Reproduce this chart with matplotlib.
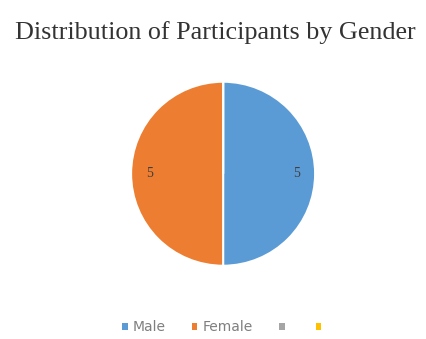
import matplotlib
matplotlib.use("Agg")
import matplotlib.pyplot as plt
from matplotlib.patches import Patch

categories = ["Male", "Female", "", ""]
values = [5, 5, 0, 0]
colors = ["#5B9BD5", "#ED7D31", "#A5A5A5", "#FFC000"]
title = "Distribution of Participants by Gender"

fig = plt.figure(figsize=(4.27, 3.39), dpi=100)
fig.text(0.035, 0.905, title, fontsize=18.8, family="Liberation Serif",
         color="#333333", ha="left", va="center")

ax = fig.add_axes([0.307, 0.216, 0.431, 0.543])
total = sum(values)
wedges, texts, autotexts = ax.pie(
    values, colors=colors, startangle=90, counterclock=False,
    wedgeprops=dict(edgecolor="white", linewidth=1.5),
    autopct=lambda p: f"{p * total / 100:.0f}" if p > 0 else "",
    pctdistance=0.8, textprops=dict(fontsize=10, color="#404040",
                                    family="Liberation Serif"))
ax.set_xlim(-1, 1)
ax.set_ylim(-1, 1)
ax.set_aspect("equal")

handles = [Patch(facecolor=c, edgecolor="none") for c in colors]
fig.legend(handles, categories, loc="center", bbox_to_anchor=(0.525, 0.035),
           ncol=4, frameon=False, fontsize=10, handlelength=0.4,
           handleheight=0.4, handletextpad=0.35, columnspacing=1.9,
           labelcolor="#7f7f7f")

fig.savefig("out.png", dpi=100)
